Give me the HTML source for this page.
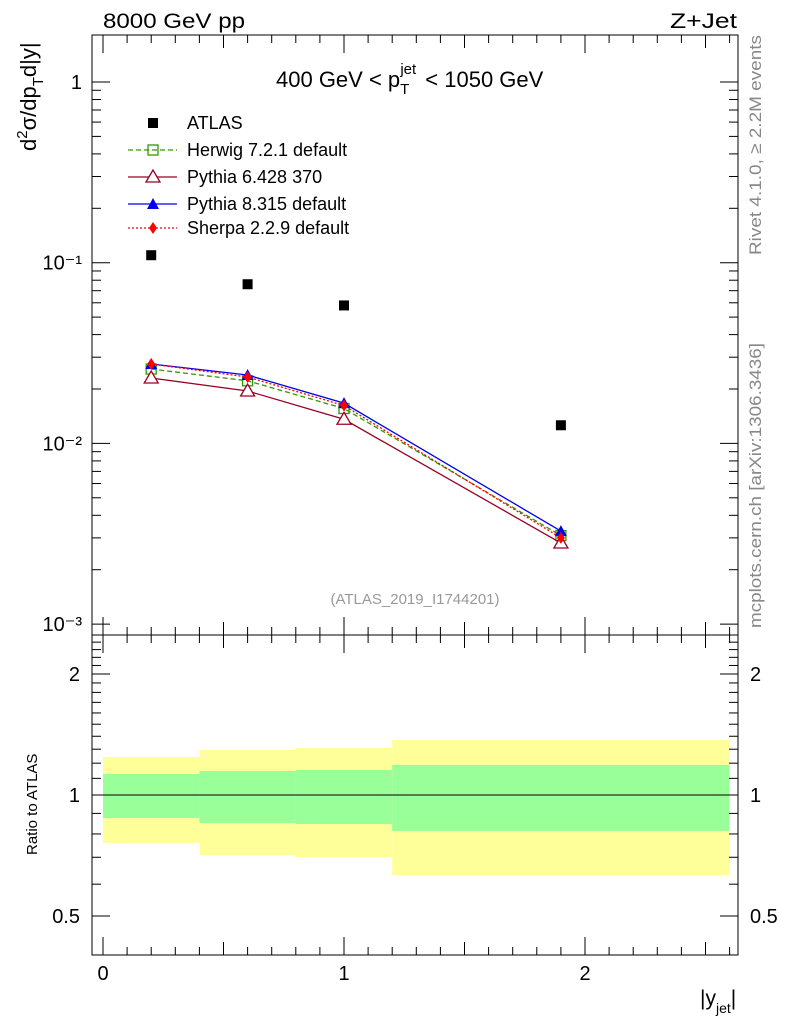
<!DOCTYPE html>
<html><head><meta charset="utf-8"><style>
body{margin:0;background:#fff;}
svg{display:block;font-family:"Liberation Sans",sans-serif;}
</style></head><body>
<svg id="chart" width="786" height="1024" viewBox="0 0 786 1024" xmlns="http://www.w3.org/2000/svg">
<rect width="786" height="1024" fill="#fff"/>
<g id="bands"></g>
<g id="marks"></g>
<g id="axes"></g>
<rect x="92" y="35" width="646" height="600" fill="none" stroke="#000" stroke-width="1"/>
<rect x="92" y="635" width="646" height="320" fill="none" stroke="#000" stroke-width="1"/>
<text x="103" y="28" font-size="21" textLength="142" lengthAdjust="spacingAndGlyphs">8000 GeV pp</text>
<text x="670" y="28" font-size="21" textLength="67" lengthAdjust="spacingAndGlyphs">Z+Jet</text>
<text x="276" y="87" font-size="22">400 GeV &lt; p<tspan font-size="15" dy="7">T</tspan><tspan font-size="15" dx="-9" dy="-20">jet</tspan><tspan dy="13" dx="3"> &lt; 1050 GeV</tspan></text>
<text transform="translate(36,151) rotate(-90)" font-size="22">d<tspan font-size="15" dy="-9">2</tspan><tspan dy="9">σ/dp</tspan><tspan font-size="15" dy="7">T</tspan><tspan dy="-7">d|y|</tspan></text>
<text transform="translate(37,855) rotate(-90)" font-size="15">Ratio to ATLAS</text>
<text x="700" y="1005" font-size="21">|y<tspan font-size="14" dy="8">jet</tspan><tspan dy="-8">|</tspan></text>
<text transform="translate(761,255) rotate(-90)" font-size="17" fill="#888" textLength="220" lengthAdjust="spacingAndGlyphs">Rivet 4.1.0, ≥ 2.2M events</text>
<text transform="translate(761,628) rotate(-90)" font-size="17" fill="#888" textLength="285" lengthAdjust="spacingAndGlyphs">mcplots.cern.ch [arXiv:1306.3436]</text>
<text x="415" y="604" font-size="15" fill="#999" text-anchor="middle">(ATLAS_2019_I1744201)</text>
<g id="legend"></g>
</svg>
<script>
const xCenters=[0.2,0.6,1.0,1.9];
const binEdges=[0,0.4,0.8,1.2,2.6];
const atlas=[0.110,0.076,0.058,0.0126];
const herwig=[0.0258,0.0222,0.0156,0.00309];
const pythia6=[0.0230,0.0195,0.0136,0.00281];
const pythia8=[0.0275,0.0239,0.0167,0.00327];
const sherpa=[0.0275,0.0233,0.0162,0.00300];
const yellowHi=[1.243,1.294,1.309,1.37];
const yellowLo=[0.76,0.709,0.701,0.632];
const greenHi=[1.128,1.147,1.154,1.188];
const greenLo=[0.876,0.852,0.847,0.814];
const mainTicks=["10\u207B\u00B3","10\u207B\u00B2","10\u207B\u00B9","1"];
const ratioTicks=[0.5,1,2];
const xTicks=[0,1,2];

const NS="http://www.w3.org/2000/svg";
const X=v=>103+241*v;
const Y=v=>82-180.7*Math.log10(v);
const R=v=>795-402*Math.log10(v);
function mk(t,p,a){const e=document.createElementNS(NS,t);for(const k in a)e.setAttribute(k,a[k]);p.appendChild(e);return e;}
const bands=document.getElementById('bands'),marks=document.getElementById('marks'),axes=document.getElementById('axes'),leg=document.getElementById('legend');

for(let i=0;i<xCenters.length;i++){
 let r=mk('rect',bands,{x:X(binEdges[i]),y:R(yellowHi[i]),width:X(binEdges[i+1])-X(binEdges[i]),height:R(yellowLo[i])-R(yellowHi[i]),fill:'#ffff99'});
 
 
 let g=mk('rect',bands,{x:X(binEdges[i]),y:R(greenHi[i]),width:X(binEdges[i+1])-X(binEdges[i]),height:R(greenLo[i])-R(greenHi[i]),fill:'#99ff99'});
 
 
}
let ref=mk('line',bands,{x1:X(binEdges[0]),x2:X(binEdges[4]),y1:R(1),y2:R(1),stroke:'#000','stroke-width':1});



function marker(p,type,cx,cy,col){
 if(type==='sq')return mk('rect',p,{x:cx-5,y:cy-5,width:10,height:10,fill:'#000'});
 if(type==='osq')return mk('rect',p,{x:cx-5,y:cy-5,width:10,height:10,fill:'none',stroke:col,'stroke-width':1.3});
 if(type==='otri')return mk('polygon',p,{points:`${cx},${cy-7} ${cx-7},${cy+5} ${cx+7},${cy+5}`,fill:'#fff',stroke:col,'stroke-width':1.3});
 if(type==='tri')return mk('polygon',p,{points:`${cx},${cy-6} ${cx-6},${cy+5} ${cx+6},${cy+5}`,fill:col});
 if(type==='dia')return mk('polygon',p,{points:`${cx},${cy-6} ${cx-4},${cy} ${cx},${cy+6} ${cx+4},${cy}`,fill:col});
}
const series=[
 {name:'herwig',vals:herwig,col:'#339900',dash:'5,3',m:'osq',label:'Herwig 7.2.1 default'},
 {name:'pythia6',vals:pythia6,col:'#990022',dash:'',m:'otri',label:'Pythia 6.428 370'},
 {name:'pythia8',vals:pythia8,col:'#0000ee',dash:'',m:'tri',label:'Pythia 8.315 default'},
 {name:'sherpa',vals:sherpa,col:'#ff0000',dash:'2,2',m:'dia',label:'Sherpa 2.2.9 default'}];
series.forEach(s=>{
 let l=mk('polyline',marks,{points:s.vals.map((v,i)=>X(xCenters[i])+','+Y(v)).join(' '),fill:'none',stroke:s.col,'stroke-width':1.3,'stroke-dasharray':s.dash});
 
 
 s.vals.forEach((v,i)=>{let m=marker(marks,s.m,X(xCenters[i]),Y(v),s.col);
  
  });
});
atlas.forEach((v,i)=>{let m=marker(marks,'sq',X(xCenters[i]),Y(v));
 
 });

const lys=[123,150,177,204,228];
let la=marker(leg,'sq',153,lys[0]);


let lt=mk('text',leg,{x:187,y:lys[0]+6,'font-size':18});lt.textContent='ATLAS';


series.forEach((s,k)=>{const y=lys[k+1];
 let l=mk('line',leg,{x1:128,x2:177,y1:y,y2:y,stroke:s.col,'stroke-width':1.3,'stroke-dasharray':s.dash});
 
 
 let m=marker(leg,s.m,153,y,s.col);
 
 
 let t=mk('text',leg,{x:187,y:y+6,'font-size':18});t.textContent=s.label;
 
 
});

function tick(x1,y1,x2,y2){mk('line',axes,{x1,y1,x2,y2,stroke:'#000','stroke-width':1});}
for(let d=-3;d<=0;d++){
 for(let k=1;k<10;k++){const v=k*Math.pow(10,d);const y=Y(v);if(y<35||y>635)continue;
  const L=k===1?18:9;tick(92,y,92+L,y);tick(738,y,738-L,y);}
 let t=mk('text',axes,{x:82,y:Y(Math.pow(10,d))+7,'font-size':20,'text-anchor':'end'});t.textContent=mainTicks[d+3];
 
 
}
for(let k=2;k<10;k++){const y=Y(k);if(y>35){tick(92,y,101,y);tick(738,y,729,y);}}
for(let v=0.4;v<=2.5;v+=0.1){const y=R(v);if(y<635||y>955)continue;
 const major=[0.5,1,2].some(m=>Math.abs(m-v)<1e-6);const L=major?18:9;tick(92,y,92+L,y);tick(738,y,738-L,y);}
ratioTicks.forEach(v=>{
 let t=mk('text',axes,{x:80,y:R(v)+7,'font-size':20,'text-anchor':'end'});t.textContent=String(v);
 
 
 let t2=mk('text',axes,{x:750,y:R(v)+7,'font-size':20});t2.textContent=String(v);
 
 
});
for(let i=0;i<=26;i++){const v=i/10;const x=X(v);if(x>738)continue;
 const L=i%10===0?18:(i%5===0?13:8);
 tick(x,635,x,635-L);tick(x,955,x,955-L);tick(x,35,x,35+L);tick(x,635,x,635+L);}
xTicks.forEach(v=>{let t=mk('text',axes,{x:X(v),y:980,'font-size':20,'text-anchor':'middle'});t.textContent=String(v);
 
 });
</script>
</body></html>
